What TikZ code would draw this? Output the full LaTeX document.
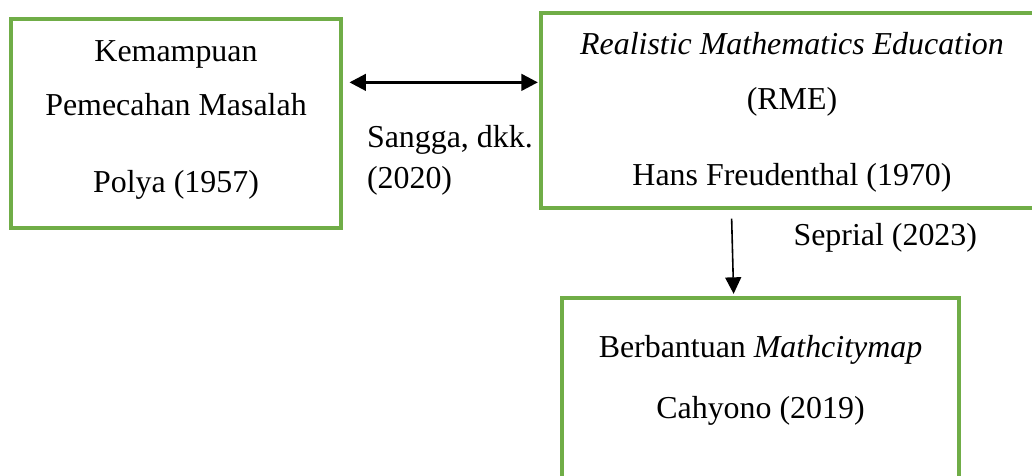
\documentclass[tikz,border=0pt]{standalone}
\usepackage{fontspec}
\setmainfont{Liberation Serif}
\usepackage{tikz}
\usetikzlibrary{arrows.meta,positioning,calc}
\definecolor{boxgreen}{HTML}{70AD47}
\tikzset{
  greenbox/.style={draw=boxgreen, line width=1.15pt, rectangle, inner sep=0pt},
  txt/.style={anchor=base, inner sep=0pt, font=\fontsize{12}{14}\selectfont},
  txtl/.style={txt, anchor=base west},
  dblarr/.style={{Triangle[length=6.2pt,width=6.2pt]}-{Triangle[length=6.2pt,width=6.2pt]}, line width=1.1pt},
  arr/.style={-{Triangle[length=6.2pt,width=6pt]}, line width=0.6pt}
}
\begin{document}
\begin{tikzpicture}[x=0.376pt, y=-0.376pt]
\useasboundingbox (0,0) rectangle (1032,475);
\clip (0,0) rectangle (1032,475);
% boxes
\node[greenbox, minimum width=330*0.376pt, minimum height=209*0.376pt] (pemecahan) at (176,123.5) {};
\node[greenbox, minimum width=502*0.376pt, minimum height=195*0.376pt] (rme) at (792,110.5) {};
\node[greenbox, minimum width=397*0.376pt, minimum height=204*0.376pt] (mcm) at (760.5,400) {};
% texts
\node[txt] (kemampuan) at (176,61) {Kemampuan};
\node[txt] (masalah) at (176,115) {Pemecahan Masalah};
\node[txt] (polya) at (176,192) {Polya (1957)};
\node[txt] (realistic) at (792,54) {\itshape Realistic Mathematics Education};
\node[txt] (singkat) at (792,109) {(RME)};
\node[txt] (hans) at (792,185) {Hans Freudenthal (1970)};
\node[txt] (berbantuan) at (760.5,357) {Berbantuan \textit{Mathcitymap}};
\node[txt] (cahyono) at (760.5,418) {Cahyono (2019)};
% connectors
\coordinate (kiri) at ($(pemecahan.north east)!0.306!(pemecahan.south east)$);
\draw[dblarr, shorten <=2.6pt, shorten >=0.6pt] (kiri) -- (kiri -| rme.west);
\node[txtl] (sangga) at (366.5,147) {Sangga, dkk.};
\node[txtl] (tahun) at (366.5,188) {(2020)};
\coordinate (atas) at ($(rme.south west)!0.38!(rme.south east)$);
\coordinate (bawah) at ($(mcm.north west)!0.433!(mcm.north east)$);
\draw[arr, shorten <=3.4pt, shorten >=1pt] (atas) -- (bawah);
\node[txtl] (seprial) at (793,245) {Seprial (2023)};
\end{tikzpicture}
\end{document}
